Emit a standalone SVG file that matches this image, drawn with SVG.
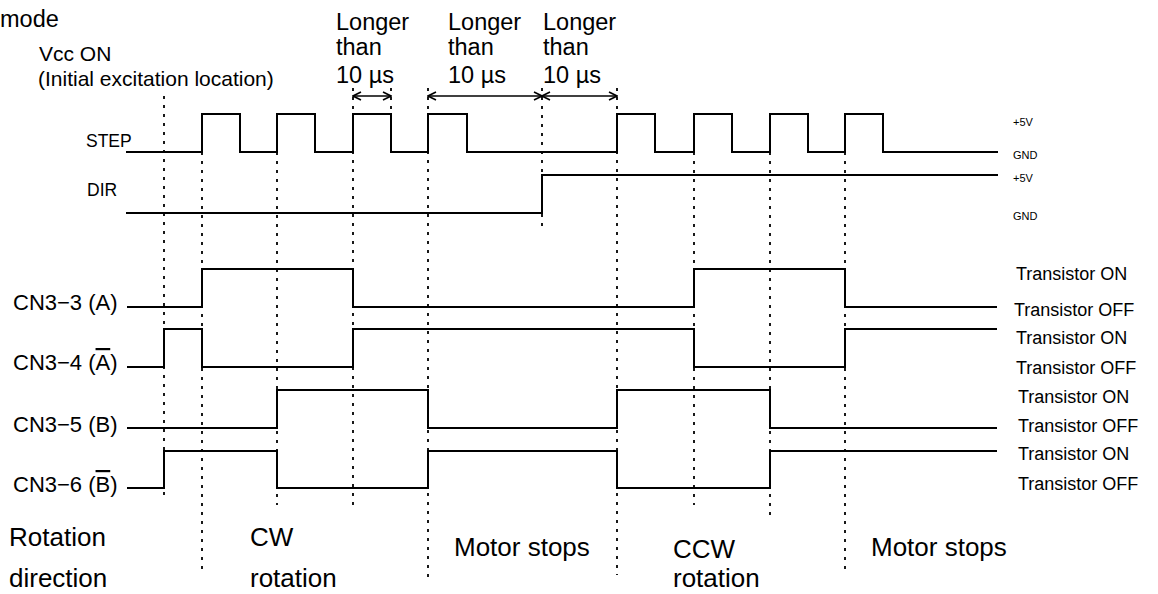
<svg xmlns="http://www.w3.org/2000/svg" width="1158" height="594" viewBox="0 0 1158 594">
<style>
text{font-family:"Liberation Sans",Arial,sans-serif;fill:#000}
.wave{fill:none;stroke:#000;stroke-width:2;stroke-linejoin:miter}
.guide{fill:none;stroke:#000;stroke-width:1.8;stroke-dasharray:3 6}
.dim{fill:none;stroke:#000;stroke-width:1.6;marker-start:url(#chev);marker-end:url(#chev)}
.big{font-size:26px}
.mid{font-size:23.5px}
.lab{font-size:21px}
.cn{font-size:22px}
.sig{font-size:17.5px}
.lvl{font-size:11px}
.tr{font-size:18px}
</style>
<defs>
<marker id="chev" viewBox="0 0 10 10" refX="9" refY="5" markerWidth="10" markerHeight="10" markerUnits="userSpaceOnUse" orient="auto-start-reverse">
<path d="M1,1 L9,5 L1,9" fill="none" stroke="#000" stroke-width="1.6"/>
</marker>
</defs>
<rect width="1158" height="594" fill="#fff"/>

<g id="header">
<text class="mid" x="0" y="27">mode</text>
<text class="lab" x="39" y="61">Vcc ON</text>
<text class="lab" x="38" y="86">(Initial excitation location)</text>
</g>

<g id="timing-notes">
<text class="mid" x="336" y="30">Longer</text>
<text class="mid" x="336" y="55">than</text>
<text class="mid" x="336" y="83">10 µs</text>
<text class="mid" x="448" y="30">Longer</text>
<text class="mid" x="448" y="55">than</text>
<text class="mid" x="448" y="83">10 µs</text>
<text class="mid" x="543" y="30">Longer</text>
<text class="mid" x="543" y="55">than</text>
<text class="mid" x="543" y="83">10 µs</text>
</g>

<g id="guides">
<line class="guide" x1="164" y1="96" x2="164" y2="497"/>
<line class="guide" x1="202" y1="152" x2="202" y2="569"/>
<line class="guide" x1="277" y1="152" x2="277" y2="505"/>
<line class="guide" x1="353" y1="88" x2="353" y2="505"/>
<line class="guide" x1="391" y1="88" x2="391" y2="114"/>
<line class="guide" x1="428" y1="88" x2="428" y2="580"/>
<line class="guide" x1="542" y1="88" x2="542" y2="230"/>
<line class="guide" x1="617" y1="88" x2="617" y2="575"/>
<line class="guide" x1="694" y1="152" x2="694" y2="505"/>
<line class="guide" x1="770" y1="152" x2="770" y2="520"/>
<line class="guide" x1="845" y1="152" x2="845" y2="569"/>
</g>

<g id="connectors">
<line class="dim" x1="353" y1="96" x2="391" y2="96"/>
<line class="dim" x1="428" y1="96" x2="542" y2="96"/>
<line class="dim" x1="542" y1="96" x2="617" y2="96"/>
</g>

<g id="step">
<text class="sig" x="86" y="147">STEP</text>
<path class="wave" d="M126,152 H202 V114 H240 V152 H277 V114 H315 V152 H353 V114 H391 V152 H428 V114 H467 V152 H617 V114 H655 V152 H694 V114 H732 V152 H770 V114 H808 V152 H845 V114 H883 V152 H998"/>
<text class="lvl" x="1013" y="126">+5V</text>
<text class="lvl" x="1013" y="159">GND</text>
</g>

<g id="dir">
<text class="sig" x="87" y="196">DIR</text>
<path class="wave" d="M126,213 H542 V175 H998"/>
<text class="lvl" x="1013" y="182">+5V</text>
<text class="lvl" x="1013" y="220">GND</text>
</g>

<g id="cn3-3">
<text class="cn" x="13" y="310">CN3−3 (A)</text>
<path class="wave" d="M127,307 H202 V269 H353 V307 H694 V269 H845 V307 H997"/>
<text class="tr" x="1016" y="280">Transistor ON</text>
<text class="tr" x="1014" y="316">Transistor OFF</text>
</g>

<g id="cn3-4">
<text class="cn" x="13" y="370">CN3−4 (<tspan text-decoration="overline">A</tspan>)</text>
<path class="wave" d="M127,367 H164 V329 H202 V367 H353 V329 H694 V367 H845 V329 H997"/>
<text class="tr" x="1016" y="344">Transistor ON</text>
<text class="tr" x="1016" y="374">Transistor OFF</text>
</g>

<g id="cn3-5">
<text class="cn" x="13" y="432">CN3−5 (B)</text>
<path class="wave" d="M127,428 H277 V390 H428 V428 H617 V390 H770 V428 H997"/>
<text class="tr" x="1018" y="403">Transistor ON</text>
<text class="tr" x="1018" y="432">Transistor OFF</text>
</g>

<g id="cn3-6">
<text class="cn" x="13" y="492">CN3−6 (<tspan text-decoration="overline">B</tspan>)</text>
<path class="wave" d="M127,488 H164 V451 H277 V488 H428 V451 H617 V488 H770 V451 H997"/>
<text class="tr" x="1018" y="460">Transistor ON</text>
<text class="tr" x="1018" y="490">Transistor OFF</text>
</g>

<g id="rotation-labels">
<text class="big" x="9" y="546">Rotation</text>
<text class="big" x="9" y="587">direction</text>
<text class="big" x="250" y="546">CW</text>
<text class="big" x="250" y="587">rotation</text>
<text class="big" x="454" y="556">Motor stops</text>
<text class="big" x="673" y="558">CCW</text>
<text class="big" x="673" y="587">rotation</text>
<text class="big" x="871" y="556">Motor stops</text>
</g>
</svg>
